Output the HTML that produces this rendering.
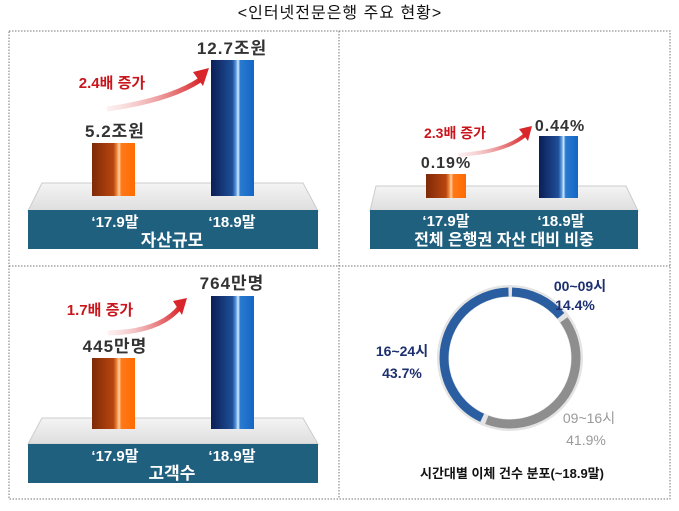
<!DOCTYPE html>
<html><head><meta charset="utf-8"><style>
html,body{margin:0;padding:0;background:#fff;}
svg{display:block;font-family:"Liberation Sans","Noto Sans CJK KR",sans-serif;}
</style></head><body>
<svg width="679" height="511" viewBox="0 0 679 511">
<defs>
<linearGradient id="og" x1="0" x2="1" y1="0" y2="0">
<stop offset="0" stop-color="#7e2a08"/><stop offset="0.5" stop-color="#b8460e"/>
<stop offset="0.58" stop-color="#f08a40"/><stop offset="0.63" stop-color="#ffd0a0"/><stop offset="0.68" stop-color="#ff7a1a"/>
<stop offset="1" stop-color="#ff6a00"/></linearGradient>
<linearGradient id="bg" x1="0" x2="1" y1="0" y2="0">
<stop offset="0" stop-color="#0b1e55"/><stop offset="0.5" stop-color="#1f4f98"/>
<stop offset="0.58" stop-color="#5a9ae0"/><stop offset="0.63" stop-color="#d6ecff"/><stop offset="0.68" stop-color="#2a7ad0"/>
<stop offset="1" stop-color="#1466c4"/></linearGradient>
<linearGradient id="pg" x1="0" x2="0" y1="0" y2="1">
<stop offset="0" stop-color="#f4f4f4"/><stop offset="1" stop-color="#dedede"/></linearGradient>
<linearGradient id="ag" x1="0" x2="1"><stop offset="0" stop-color="#f6d0d0" stop-opacity="0.3"/><stop offset="1" stop-color="#d8262a"/></linearGradient>
</defs>
<text x="340" y="18" text-anchor="middle" font-size="16" fill="#111" letter-spacing="1">&lt;인터넷전문은행 주요 현황&gt;</text>
<rect x="9" y="31" width="661" height="468" fill="none" stroke="#777" stroke-dasharray="1.5 1.5"/>
<line x1="339" y1="31" x2="339" y2="499" stroke="#777" stroke-dasharray="1.5 1.5"/>
<line x1="9" y1="266" x2="670" y2="266" stroke="#777" stroke-dasharray="1.5 1.5"/>

<!-- Panel 1 -->
<polygon points="42,183 303,183 318,211 28,211" fill="url(#pg)" stroke="#ccc"/>
<rect x="28" y="210" width="290" height="39" fill="#20607f"/>
<rect x="92" y="143" width="43" height="53" fill="url(#og)"/>
<rect x="211" y="60" width="43" height="136" fill="url(#bg)"/>
<text x="115" y="137" text-anchor="middle" font-size="17" font-weight="bold" fill="#333" letter-spacing="1">5.2조원</text>
<text x="232" y="54" text-anchor="middle" font-size="17" font-weight="bold" fill="#333" letter-spacing="1">12.7조원</text>
<path d="M107,109 Q170,100 200,80" fill="none" stroke="url(#ag)" stroke-width="5"/>
<polygon points="193,72 209,68 203,86" fill="#d8262a"/>
<text x="112" y="88" text-anchor="middle" font-size="15" font-weight="bold" fill="#c8161c">2.4배 증가</text>
<text x="115" y="227" text-anchor="middle" font-size="15" font-weight="bold" fill="#fff">‘17.9말</text>
<text x="232" y="227" text-anchor="middle" font-size="15" font-weight="bold" fill="#fff">‘18.9말</text>
<text x="172" y="246" text-anchor="middle" font-size="17" font-weight="bold" fill="#fff">자산규모</text>

<!-- Panel 2 -->
<polygon points="376,186 626,186 638,211 370,211" fill="url(#pg)" stroke="#ccc"/>
<rect x="370" y="210" width="268" height="39" fill="#20607f"/>
<rect x="426" y="174" width="40" height="24" fill="url(#og)"/>
<rect x="539" y="136" width="39" height="62" fill="url(#bg)"/>
<text x="446" y="168" text-anchor="middle" font-size="16" font-weight="bold" fill="#333" letter-spacing="1">0.19%</text>
<text x="560" y="131" text-anchor="middle" font-size="16" font-weight="bold" fill="#333" letter-spacing="1">0.44%</text>
<path d="M458,155 Q505,152 525,135" fill="none" stroke="url(#ag)" stroke-width="4"/>
<polygon points="519,129 532,126 528,141" fill="#d8262a"/>
<text x="455" y="138" text-anchor="middle" font-size="14" font-weight="bold" fill="#c8161c">2.3배 증가</text>
<text x="446" y="226" text-anchor="middle" font-size="15" font-weight="bold" fill="#fff">‘17.9말</text>
<text x="561" y="226" text-anchor="middle" font-size="15" font-weight="bold" fill="#fff">‘18.9말</text>
<text x="504" y="245" text-anchor="middle" font-size="16" font-weight="bold" fill="#fff">전체 은행권 자산 대비 비중</text>

<!-- Panel 3 -->
<polygon points="42,418 303,418 318,444 28,444" fill="url(#pg)" stroke="#ccc"/>
<rect x="28" y="444" width="290" height="39" fill="#20607f"/>
<rect x="92" y="358" width="43" height="71" fill="url(#og)"/>
<rect x="211" y="296" width="43" height="133" fill="url(#bg)"/>
<text x="115" y="352" text-anchor="middle" font-size="17" font-weight="bold" fill="#333" letter-spacing="1">445만명</text>
<text x="232" y="289" text-anchor="middle" font-size="17" font-weight="bold" fill="#333" letter-spacing="1">764만명</text>
<path d="M108,333 Q160,332 180,307" fill="none" stroke="url(#ag)" stroke-width="5"/>
<polygon points="173,301 187,298 182,315" fill="#d8262a"/>
<text x="100" y="315" text-anchor="middle" font-size="15" font-weight="bold" fill="#c8161c">1.7배 증가</text>
<text x="115" y="461" text-anchor="middle" font-size="15" font-weight="bold" fill="#fff">‘17.9말</text>
<text x="232" y="461" text-anchor="middle" font-size="15" font-weight="bold" fill="#fff">‘18.9말</text>
<text x="172" y="479" text-anchor="middle" font-size="17" font-weight="bold" fill="#fff">고객수</text>

<!-- Panel 4 donut -->
<g transform="translate(510,358) rotate(-90)" fill="none" stroke-width="9">
<circle r="67" stroke="#e4e4e4" stroke-width="12"/>
<circle r="66" stroke="#2a5ea0" stroke-dasharray="56 1000" stroke-dashoffset="-2"/>
<circle r="66" stroke="#8e8e8e" stroke-dasharray="168 1000" stroke-dashoffset="-63"/>
<circle r="66" stroke="#2a5ea0" stroke-dasharray="177 1000" stroke-dashoffset="-236"/>
</g>
<text x="580" y="291" text-anchor="middle" font-size="14" font-weight="bold" fill="#1c2f6e">00~09시</text>
<text x="575" y="310" text-anchor="middle" font-size="14" font-weight="bold" fill="#1c2f6e">14.4%</text>
<text x="402" y="356" text-anchor="middle" font-size="14" font-weight="bold" fill="#1c2f6e">16~24시</text>
<text x="402" y="378" text-anchor="middle" font-size="14" font-weight="bold" fill="#1c2f6e">43.7%</text>
<text x="589" y="423" text-anchor="middle" font-size="14" fill="#999">09~16시</text>
<text x="586" y="445" text-anchor="middle" font-size="14" fill="#999">41.9%</text>
<text x="512" y="478" text-anchor="middle" font-size="13" font-weight="bold" fill="#111">시간대별 이체 건수 분포(~18.9말)</text>
</svg>
</body></html>
